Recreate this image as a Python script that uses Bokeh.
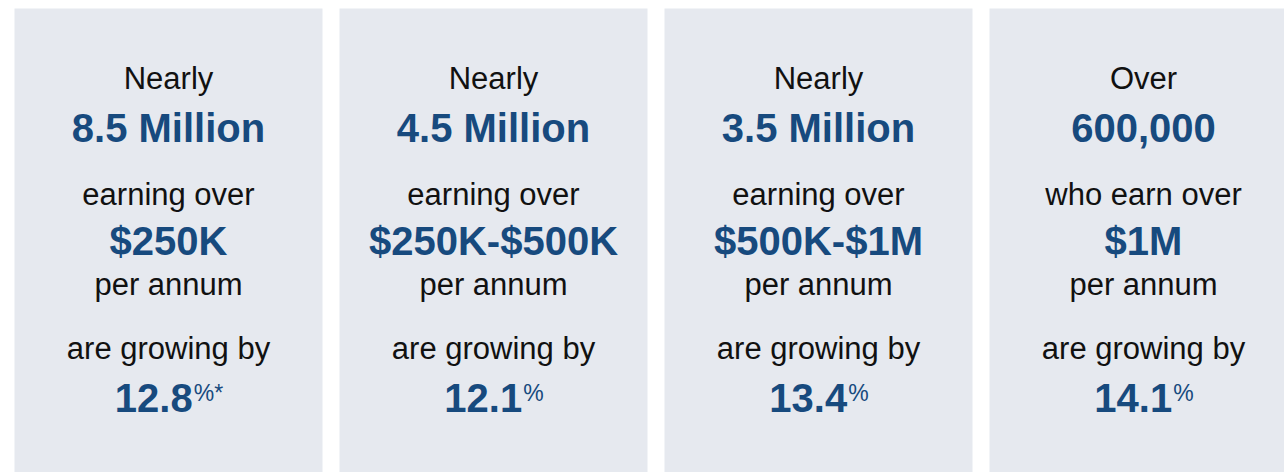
from bokeh.plotting import figure
from bokeh.models import Range1d, ColumnDataSource
from bokeh.core.properties import value
from bokeh.embed import file_html
from bokeh.resources import INLINE

# ---- data ----
qualifiers = ["Nearly", "Nearly", "Nearly", "Over"]
headcounts = ["8.5 Million", "4.5 Million", "3.5 Million", "600,000"]
earn_phrases = ["earning over", "earning over", "earning over", "who earn over"]
income_bands = ["$250K", "$250K-$500K", "$500K-$1M", "$1M"]
periods = ["per annum", "per annum", "per annum", "per annum"]
growth_phrases = ["are growing by", "are growing by", "are growing by", "are growing by"]
growth_rates = [12.8, 12.1, 13.4, 14.1]
rate_suffixes = ["%*", "%", "%", "%"]

# ---- layout / style ----
W, H = 1284, 472
CARD_W, PITCH, FIRST_LEFT, CARD_TOP = 308, 325, 14, 8
BG = "#e6e9ef"
BLUE = "#174a7e"
DARK = "#111111"
FONT = "Liberation Sans"
REG, BOLD, SUP = 31, 40, 23
BASELINE_SHIFT = 0.355  # em: renderer places text centre at y

n = len(headcounts)
lefts = [FIRST_LEFT + i * PITCH for i in range(n)]
centers = [l + CARD_W / 2 for l in lefts]

# approximate Helvetica/Liberation advance widths (em)
BOLD_W = {c: 0.556 for c in "0123456789"}
BOLD_W["."] = 0.278
REG_W = {"%": 0.889, "*": 0.389}

rate_labels = [f"{r:.1f}" for r in growth_rates]
num_w = [sum(BOLD_W[c] for c in s) * BOLD for s in rate_labels]
sup_w = [sum(REG_W[c] for c in s) * SUP for s in rate_suffixes]
num_right = [c - (a + b) / 2 + a for c, a, b in zip(centers, num_w, sup_w)]

p = figure(width=W, height=H, x_range=Range1d(0, W), y_range=Range1d(H, 0),
           output_backend="svg", toolbar_location=None, min_border=0,
           x_axis_location=None, y_axis_location=None)
p.grid.visible = False
p.outline_line_color = None
p.background_fill_color = "white"
p.border_fill_color = "white"

cards = ColumnDataSource(dict(left=lefts, right=[l + CARD_W for l in lefts],
                              top=[CARD_TOP] * n, bottom=[H + 10] * n))
p.quad(left="left", right="right", top="top", bottom="bottom", source=cards,
       fill_color=BG, line_color=None)

def line(texts, baseline, size, color, bold=False, xs=None, align="center"):
    y = baseline - BASELINE_SHIFT * size
    p.text(x=xs if xs is not None else centers, y=[y] * len(texts), text=texts,
           text_font=value(FONT), text_font_size=f"{size}px",
           text_font_style="bold" if bold else "normal",
           text_color=color, text_align=align, text_baseline="alphabetic")

line(qualifiers, 89, REG, DARK)
line(headcounts, 142, BOLD, BLUE, bold=True)
line(earn_phrases, 205, REG, DARK)
line(income_bands, 255, BOLD, BLUE, bold=True)
line(periods, 295, REG, DARK)
line(growth_phrases, 359, REG, DARK)
line(rate_labels, 412, BOLD, BLUE, bold=True, xs=num_right, align="right")
line(rate_suffixes, 401, SUP, BLUE, xs=[x + 1 for x in num_right], align="left")

open("out.html", "w").write(file_html(p, INLINE))
